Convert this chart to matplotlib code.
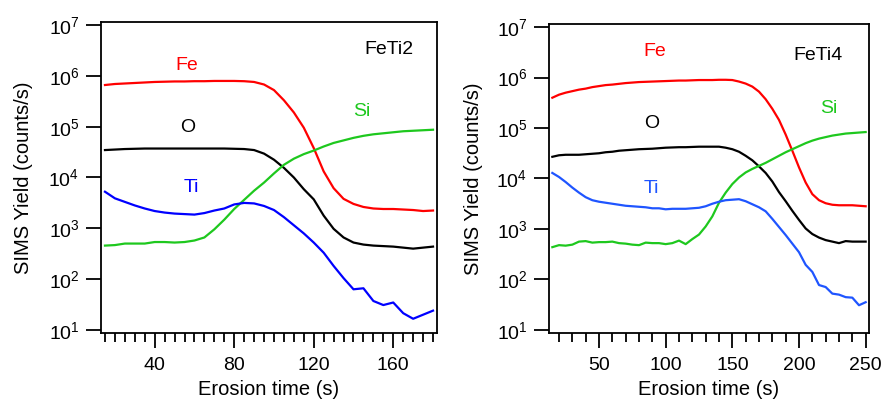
import numpy as np
import matplotlib
matplotlib.use("Agg")
import matplotlib.pyplot as plt
from matplotlib.ticker import NullFormatter, MultipleLocator, FixedLocator, LogFormatterSciNotation

plt.rcParams['font.family'] = ['Liberation Sans', 'DejaVu Sans']
plt.rcParams['mathtext.fontset'] = 'custom'
plt.rcParams['mathtext.rm'] = 'Liberation Sans'
plt.rcParams['mathtext.default'] = 'regular'

# ---- Data (log10 of SIMS yield, counts/s) ----
t2 = list(range(15, 181, 5))
fe2 = [5.82, 5.84, 5.85, 5.86, 5.87, 5.88, 5.885, 5.89, 5.89, 5.895, 5.895, 5.90, 5.90, 5.90,
       5.895, 5.88, 5.83, 5.72, 5.52, 5.28, 4.98, 4.58, 4.12, 3.79, 3.58, 3.48, 3.42, 3.39,
       3.38, 3.38, 3.37, 3.36, 3.34, 3.35]
o2 = [4.54, 4.55, 4.56, 4.565, 4.57, 4.57, 4.57, 4.57, 4.57, 4.57, 4.57, 4.57, 4.57, 4.565,
      4.56, 4.54, 4.47, 4.35, 4.19, 4.00, 3.77, 3.57, 3.25, 2.99, 2.82, 2.72, 2.68, 2.66,
      2.65, 2.64, 2.62, 2.60, 2.62, 2.64]
ti2 = [3.72, 3.59, 3.52, 3.45, 3.39, 3.34, 3.31, 3.29, 3.28, 3.27, 3.30, 3.35, 3.39, 3.47,
       3.50, 3.49, 3.44, 3.36, 3.22, 3.06, 2.90, 2.72, 2.52, 2.26, 2.02, 1.80, 1.82, 1.57,
       1.49, 1.54, 1.33, 1.22, 1.30, 1.38]
si2 = [2.66, 2.67, 2.70, 2.70, 2.70, 2.73, 2.73, 2.72, 2.73, 2.76, 2.82, 2.98, 3.17, 3.38,
       3.56, 3.74, 3.90, 4.08, 4.25, 4.37, 4.46, 4.53, 4.61, 4.68, 4.73, 4.78, 4.82, 4.85,
       4.87, 4.89, 4.91, 4.92, 4.93, 4.94]

t4 = list(range(15, 251, 5))
fe4 = [5.60, 5.66, 5.70, 5.73, 5.76, 5.78, 5.81, 5.83, 5.85, 5.86, 5.875, 5.89, 5.90, 5.91,
       5.915, 5.92, 5.925, 5.93, 5.935, 5.94, 5.94, 5.945, 5.95, 5.95, 5.95, 5.955, 5.955,
       5.95, 5.92, 5.88, 5.82, 5.72, 5.57, 5.38, 5.16, 4.87, 4.55, 4.22, 3.92, 3.69, 3.57,
       3.51, 3.48, 3.47, 3.47, 3.47, 3.46, 3.45]
o4 = [4.43, 4.46, 4.47, 4.47, 4.47, 4.48, 4.49, 4.50, 4.52, 4.53, 4.55, 4.56, 4.57, 4.58,
      4.585, 4.59, 4.60, 4.61, 4.615, 4.62, 4.62, 4.625, 4.63, 4.63, 4.63, 4.63, 4.61, 4.58,
      4.53, 4.45, 4.36, 4.24, 4.11, 3.94, 3.73, 3.55, 3.36, 3.18, 3.01, 2.90, 2.83, 2.78,
      2.75, 2.72, 2.76, 2.75, 2.75, 2.75]
ti4 = [4.11, 4.03, 3.93, 3.82, 3.72, 3.63, 3.57, 3.54, 3.52, 3.50, 3.48, 3.46, 3.45, 3.44,
       3.43, 3.41, 3.41, 3.39, 3.40, 3.40, 3.40, 3.41, 3.42, 3.45, 3.50, 3.54, 3.57, 3.58,
       3.59, 3.55, 3.49, 3.43, 3.35, 3.20, 3.04, 2.88, 2.71, 2.54, 2.29, 2.15, 1.89, 1.85,
       1.72, 1.70, 1.65, 1.64, 1.49, 1.55]
si4 = [2.64, 2.68, 2.67, 2.69, 2.75, 2.76, 2.73, 2.74, 2.74, 2.75, 2.72, 2.71, 2.69, 2.68,
       2.73, 2.72, 2.72, 2.70, 2.72, 2.77, 2.70, 2.80, 2.89, 3.05, 3.25, 3.52, 3.72, 3.89,
       4.02, 4.12, 4.19, 4.25, 4.31, 4.38, 4.45, 4.52, 4.58, 4.64, 4.70, 4.75, 4.79, 4.82,
       4.85, 4.87, 4.89, 4.90, 4.91, 4.92]

ytick_exps = [1, 2, 3, 4, 5, 6, 7]

labels2 = {"Fe": (56, 6.21), "O": (56.5, 4.98), "Ti": (58.4, 3.80), "Si": (144, 5.29)}
labels4 = {"Fe": (91.5, 6.51), "O": (89.5, 5.09), "Ti": (89, 3.81), "Si": (222, 5.38)}
sample2 = ("FeTi2", 158, 6.52)
sample4 = ("FeTi4", 214.5, 6.44)

colors2 = {"Fe": "#ff0000", "O": "#000000", "Ti": "#0000ff", "Si": "#1ec81e"}
colors4 = {"Fe": "#ff0000", "O": "#000000", "Ti": "#1f55ff", "Si": "#1ec81e"}

FS = 14

fig = plt.figure(figsize=(8.83, 4.05), dpi=100)
ax1 = fig.add_axes([101/883, 1-333/405, (437-101)/883, (333-22)/405])
ax2 = fig.add_axes([549/883, 1-333/405, (869-549)/883, (333-24)/405])


def draw(ax, t, series, colors, labels, sample, xlim, major, minor, ylab_x, xlab_y):
    for name, vals in series.items():
        ax.plot(t, 10 ** np.array(vals), color=colors[name], lw=1.6)
        lx, ly = labels[name]
        ax.text(lx, 10 ** ly, name, color=colors[name], fontsize=FS,
                ha='center', va='center')
    ax.text(sample[1], 10 ** sample[2], sample[0], color='black', fontsize=FS,
            ha='center', va='center')
    ax.set_yscale('log')
    ax.set_ylim(10 ** 0.94, 10 ** 7.06)
    ax.set_xlim(*xlim)
    ax.yaxis.set_major_locator(FixedLocator([10.0 ** e for e in ytick_exps]))
    ax.yaxis.set_major_formatter(LogFormatterSciNotation())
    ax.yaxis.set_minor_locator(FixedLocator([]))
    ax.yaxis.set_minor_formatter(NullFormatter())
    ax.xaxis.set_major_locator(MultipleLocator(major))
    ax.xaxis.set_minor_locator(MultipleLocator(minor))
    ax.tick_params(axis='y', which='major', direction='out', length=10.5, width=1.3,
                   labelsize=FS, pad=5)
    ax.tick_params(axis='x', which='major', direction='out', length=10.5, width=1.3,
                   labelsize=FS, pad=7)
    ax.tick_params(axis='x', which='minor', direction='out', length=6.5, width=1.3)
    for s in ax.spines.values():
        s.set_linewidth(1.3)
    ax.set_xlabel('Erosion time (s)', fontsize=14.5)
    ax.set_ylabel('SIMS Yield (counts/s)', fontsize=14.5)
    ax.yaxis.set_label_coords(ylab_x, 0.5)
    ax.xaxis.set_label_coords(0.5, xlab_y)


draw(ax1, t2, {"Fe": fe2, "O": o2, "Si": si2, "Ti": ti2}, colors2, labels2, sample2,
     (13, 182), 40, 5, (33 - 101) / 336, (333 - 380) / 311)
draw(ax2, t4, {"Fe": fe4, "O": o4, "Si": si4, "Ti": ti4}, colors4, labels4, sample4,
     (12.5, 252.5), 50, 10, (483 - 549) / 320, (333 - 380) / 309)

fig.savefig('out.png', dpi=100)
